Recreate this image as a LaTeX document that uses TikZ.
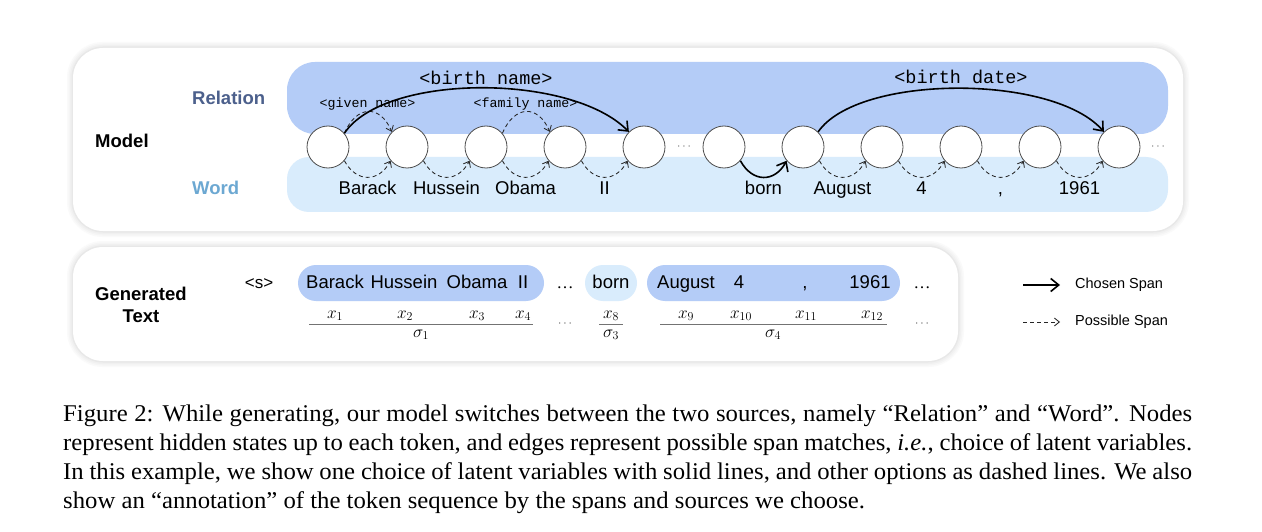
\documentclass[tikz,border=0pt]{standalone}
\usepackage[no-math]{fontspec}
\setmainfont{Liberation Serif}
\setsansfont{Liberation Sans}
\setmonofont{Liberation Mono}
\newfontfamily\capfont[FakeStretch=1.03]{Liberation Serif}
\usetikzlibrary{arrows.meta,calc}
\definecolor{relband}{RGB}{180,204,247}
\definecolor{wordband}{RGB}{217,236,252}
\definecolor{rellabel}{RGB}{76,96,140}
\definecolor{wordlabel}{RGB}{108,168,210}
\newcommand\fsz[1]{\fontsize{#1}{#1}\selectfont}
\begin{document}
\begin{tikzpicture}[x=1pt,y=-1pt,
  state/.style={circle, draw=black!70, fill=white, line width=0.8pt, minimum size=42pt, inner sep=0pt},
  chosen/.style={line width=1.6pt, black, -{Straight Barb[length=8pt,width=13pt]}},
  possible/.style={line width=0.85pt, black!85, dash pattern=on 4pt off 3pt, -{Straight Barb[length=5pt,width=8pt]}},
  lbl/.style={font=\sffamily\bfseries\fsz{18.5}, inner sep=0pt},
  wrd/.style={font=\sffamily\fsz{18.5}, inner sep=0pt, anchor=base},
  rel/.style={font=\ttfamily\fsz{18.5}, inner sep=0pt, anchor=base},
  relsmall/.style={font=\ttfamily\fsz{13.3}, inner sep=0pt, anchor=base},
  mth/.style={font=\fsz{16.5}, inner sep=0pt, anchor=base},
  leg/.style={font=\sffamily\fsz{14.5}, inner sep=0pt, anchor=west},
  captxt/.style={font=\capfont\fsz{24}, inner sep=0pt, anchor=base west},
  fracline/.style={draw=black!55, line width=0.7pt},
  panelshadow/.style={rounded corners=30pt}
]
\useasboundingbox (0,0) rectangle (1262,532);
\fill[white] (0,0) rectangle (1262,532);

% panels with soft shadow
\foreach \w/\c in {12/2,9/4,6/6,3/9}{
  \draw[panelshadow, line width=\w pt, black!\c] (73,48) rectangle (1183,231);
  \draw[panelshadow, line width=\w pt, black!\c] (73,247) rectangle (958,361);
}
\fill[panelshadow, white] (73,48) rectangle (1183,231);
\fill[panelshadow, white] (73,247) rectangle (958,361);

% bands
\fill[relband, rounded corners=28pt] (287,62) rectangle (1168,134);
\fill[wordband, rounded corners=22pt] (287,157) rectangle (1168,212);

% labels
\node[lbl, anchor=west] (model) at (95,141) {Model};
\node[lbl, anchor=west, text=rellabel] (relation) at (192,98) {Relation};
\node[lbl, anchor=west, text=wordlabel] (word) at (192,188) {Word};

% states
\foreach \i/\x in {1/328,2/407,3/486,4/565,5/644,6/724,7/803,8/882,9/961,10/1040,11/1119}
  \node[state] (n\i) at (\x,147) {};

\node[font=\fsz{13}, text=black!60, inner sep=0pt] (dotsA) at ($(n5)!0.5!(n6)$) {$\cdots$};
\node[font=\fsz{13}, text=black!60, inner sep=0pt] (dotsB) at (1158,147) {$\cdots$};

% word row
\node[wrd] (w1) at ($(n1)!0.5!(n2)+(0,48)$) {Barack};
\node[wrd] (w2) at ($(n2)!0.5!(n3)+(0,48)$) {Hussein};
\node[wrd] (w3) at ($(n3)!0.5!(n4)+(0,48)$) {Obama};
\node[wrd] (w4) at ($(n4)!0.5!(n5)+(0,48)$) {II};
\node[wrd] (w6) at ($(n6)!0.5!(n7)+(0,48)$) {born};
\node[wrd] (w7) at ($(n7)!0.5!(n8)+(0,48)$) {August};
\node[wrd] (w8) at ($(n8)!0.5!(n9)+(0,48)$) {4};
\node[wrd] (w9) at ($(n9)!0.5!(n10)+(0,48)$) {,};
\node[wrd] (w10) at ($(n10)!0.5!(n11)+(0,48)$) {1961};

% relation labels
\node[rel] (r1) at ($(n1)!0.5!(n5)+(0,-62)$) {<birth name>};
\node[rel] (r2) at ($(n7)!0.5!(n11)+(0,-63)$) {<birth date>};
\node[relsmall] (r3) at ($(n1)!0.5!(n2)+(0,-39)$) {<given name>};
\node[relsmall] (r4) at ($(n3)!0.5!(n4)+(0,-39)$) {<family name>};

% possible spans (top)
\draw[possible] (n1.40) .. controls +(12,-28) and +(-12,-28) .. (n2.135);
\draw[possible] (n3.40) .. controls +(12,-28) and +(-12,-28) .. (n4.135);
% possible spans (bottom)
\foreach \a/\b in {1/2,2/3,3/4,4/5,7/8,8/9,9/10,10/11}
  \draw[possible] (n\a.-40) .. controls +(12,22) and +(-12,22) .. (n\b.220);
% chosen spans
\draw[chosen] (n1.40) .. controls +(40,-60) and +(-58,-59) .. (n5.135);
\draw[chosen] (n6.-40) .. controls +(12,22) and +(-12,22) .. (n7.220);
\draw[chosen] (n7.45) .. controls +(40,-58) and +(-50,-58) .. (n11.135);

% generated text panel
\node[lbl, align=center, anchor=west, font=\sffamily\bfseries\fsz{18.5}] (gen) at (95,305) {Generated\\[4pt]Text};
\node[font=\sffamily\fsz{17}, inner sep=0pt, anchor=base] (bos) at (259,288) {<s>};

\fill[relband, rounded corners=18pt] (298,265) rectangle (544,301);
\fill[wordband, rounded corners=18pt] (585,265) rectangle (637,301);
\fill[relband, rounded corners=18pt] (647,265) rectangle (900,301);

\node[wrd] (g1) at (335,288) {Barack};
\node[wrd] (g2) at (404,288) {Hussein};
\node[wrd] (g3) at (477,288) {Obama};
\node[wrd] (g4) at (523,288) {II};
\node[wrd] (g8) at (611,288) {born};
\node[wrd] (g9) at (686,288) {August};
\node[wrd] (g10) at (739,288) {4};
\node[wrd] (g11) at (805,288) {,};
\node[wrd] (g12) at (870,288) {1961};

\node[font=\fsz{17}, inner sep=0pt, anchor=base] (ge1) at (565,288) {\ldots};
\node[font=\fsz{17}, inner sep=0pt, anchor=base] (ge2) at (922,288) {\ldots};

\node[mth] (x1) at (335,318) {$x_1$};
\node[mth] (x2) at (405,318) {$x_2$};
\node[mth] (x3) at (477,318) {$x_3$};
\node[mth] (x4) at (523,318) {$x_4$};
\node[mth] (x8) at (611,318) {$x_8$};
\node[mth] (x9) at (686,318) {$x_9$};
\node[mth] (x10) at (741,318) {$x_{10}$};
\node[mth] (x11) at (806,318) {$x_{11}$};
\node[mth] (x12) at (872,318) {$x_{12}$};

\coordinate (f1a) at (309,324); \coordinate (f1b) at (533,324);
\coordinate (f3a) at (599,324); \coordinate (f3b) at (623,324);
\coordinate (f4a) at (660,324); \coordinate (f4b) at (887,324);
\draw[fracline] (f1a) -- (f1b);
\draw[fracline] (f3a) -- (f3b);
\draw[fracline] (f4a) -- (f4b);

\node[mth] (s1) at (421,337) {$\sigma_1$};
\node[mth] (s3) at (611,337) {$\sigma_3$};
\node[mth] (s4) at (773,337) {$\sigma_4$};

\node[font=\fsz{12}, text=black!70, inner sep=0pt] (gd1) at (565,324) {$\cdots$};
\node[font=\fsz{12}, text=black!70, inner sep=0pt] (gd2) at (922,324) {$\cdots$};

% legend
\coordinate (l1a) at (1023,285); \coordinate (l1b) at (1060,285);
\coordinate (l2a) at (1023,322); \coordinate (l2b) at (1060,322);
\draw[chosen] (l1a) -- (l1b);
\draw[possible] (l2a) -- (l2b);
\node[leg] (lc) at (1075,285) {Chosen Span};
\node[leg] (lp) at (1075,322) {Possible Span};

% caption
\node[captxt] (cap1) at (63,421) {\makebox[1129pt][s]{Figure 2: While generating, our model switches between the two sources, namely “Relation” and “Word”. Nodes}};
\node[captxt] (cap2) at (63,450) {\makebox[1129pt][s]{represent hidden states up to each token, and edges represent possible span matches, \textit{i.e.}, choice of latent variables.}};
\node[captxt] (cap3) at (63,479) {\makebox[1129pt][s]{In this example, we show one choice of latent variables with solid lines, and other options as dashed lines. We also}};
\node[captxt] (cap4) at (63,508) {show an “annotation” of the token sequence by the spans and sources we choose.};
\end{tikzpicture}
\end{document}
